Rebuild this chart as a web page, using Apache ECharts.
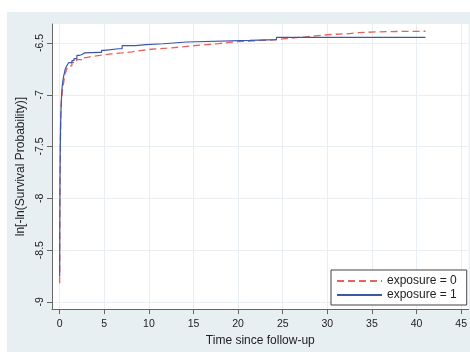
<!DOCTYPE html>
<html>
<head>
<meta charset="utf-8">
<script src="https://cdn.jsdelivr.net/npm/echarts@6/dist/echarts.min.js"></script>
<style>html,body{margin:0;padding:0;background:#fff}#c{width:470px;height:352px}</style>
</head>
<body>
<div id="c"></div>
<script>
// exposure = 0 (red dashed)
var t0 = [0, 0.01, 0.02, 0.04, 0.07, 0.1, 0.15, 0.2, 0.26, 0.35, 0.45, 0.6, 0.8, 1.0, 1.37, 1.9, 2.5, 3.0, 3.6, 4.5, 5.8, 7.0, 8.1, 9.0, 10.3, 12.0, 13.4, 15.0, 16.5, 17.9, 19.0, 20.0, 21.3, 22.4, 24.0, 25.0, 26.0, 27.5, 28.7, 30.0, 31.0, 32.5, 33.5, 35.4, 36.9, 38.0, 41.0];
var v0 = [-8.82, -8.5, -8.2, -7.85, -7.55, -7.35, -7.15, -7.05, -7.0, -6.93, -6.88, -6.8, -6.75, -6.72, -6.69, -6.66, -6.64, -6.63, -6.62, -6.605, -6.595, -6.585, -6.573, -6.56, -6.55, -6.54, -6.526, -6.515, -6.505, -6.494, -6.487, -6.482, -6.475, -6.47, -6.46, -6.452, -6.44, -6.43, -6.42, -6.415, -6.409, -6.4, -6.393, -6.39, -6.388, -6.386, -6.386];
// exposure = 1 (blue solid)
var t1 = [0, 0.01, 0.02, 0.04, 0.07, 0.1, 0.15, 0.25, 0.35, 0.45, 0.63, 0.8, 1.0, 1.37, 1.6, 1.93, 2.2, 2.5, 2.8, 4.4, 4.7, 5.0, 6.6, 7.0, 8.5, 9.7, 11.6, 14.2, 21.3, 24.3, 41.0];
var v1 = [-8.75, -8.45, -8.15, -7.8, -7.5, -7.3, -7.13, -6.95, -6.87, -6.82, -6.75, -6.72, -6.69, -6.67, -6.65, -6.62, -6.61, -6.595, -6.59, -6.59, -6.57, -6.555, -6.555, -6.525, -6.516, -6.507, -6.49, -6.475, -6.466, -6.446, -6.446];
var xTicks = [0, 5, 10, 15, 20, 25, 30, 35, 40, 45];
var yTicks = [-9, -8.5, -8, -7.5, -7, -6.5];
var seriesNames = ['exposure = 0', 'exposure = 1'];

function pairs(t, v) { return t.map(function (x, i) { return [x, v[i]]; }); }

var font = "'Liberation Sans', Arial, sans-serif";
var chart = echarts.init(document.getElementById('c'), null, { renderer: 'canvas' });
chart.setOption({
  animation: false,
  backgroundColor: '#ffffff',
  graphic: [{
    type: 'rect', z: -100, silent: true,
    shape: { x: 7, y: 12, width: 463, height: 340 },
    style: { fill: '#e8eff2' }
  }],
  grid: { left: 52, right: 0, top: 24, bottom: 39, show: true, backgroundColor: '#ffffff', borderWidth: 0 },
  legend: {
    data: seriesNames,
    orient: 'vertical', left: 331, top: 270,
    padding: [5, 10, 4, 5], itemWidth: 45, itemHeight: 14, itemGap: 2,
    itemStyle: { opacity: 0 },
    backgroundColor: '#ffffff', borderColor: '#444', borderWidth: 1, borderRadius: 0,
    textStyle: { fontFamily: font, fontSize: 12, color: '#222' }
  },
  xAxis: {
    type: 'value', min: -0.86, max: 45.84,
    name: 'Time since follow-up', nameLocation: 'middle', nameGap: 20,
    nameTextStyle: { fontFamily: font, fontSize: 12, color: '#222' },
    axisLine: { show: true, onZero: false, lineStyle: { color: '#666', width: 1 } },
    axisTick: { show: true, length: 5, customValues: xTicks, lineStyle: { color: '#666' } },
    axisLabel: { customValues: xTicks, fontFamily: font, fontSize: 10.5, color: '#222', margin: 10 },
    splitLine: { show: true, customValues: xTicks, lineStyle: { color: '#e8eef1', width: 1 } }
  },
  yAxis: {
    type: 'value', min: -9.07, max: -6.316,
    name: 'ln[-ln(Survival Probability)]', nameLocation: 'middle', nameGap: 12, nameRotate: 90,
    nameTextStyle: { fontFamily: font, fontSize: 12, color: '#222' },
    axisLine: { show: true, onZero: false, lineStyle: { color: '#666', width: 1 } },
    axisTick: { show: true, length: 5, customValues: yTicks, lineStyle: { color: '#666' } },
    axisLabel: { customValues: yTicks, rotate: 90, fontFamily: font, fontSize: 10.5, color: '#222', margin: 6 },
    splitLine: { show: true, customValues: yTicks, lineStyle: { color: '#e8eef1', width: 1 } }
  },
  series: [{
    name: seriesNames[0], type: 'line', step: 'end', symbol: 'none',
    data: pairs(t0, v0),
    lineStyle: { color: '#e8615d', width: 1.3, type: [7, 4] },
    itemStyle: { color: '#e8615d' }
  }, {
    name: seriesNames[1], type: 'line', step: 'end', symbol: 'none',
    data: pairs(t1, v1),
    lineStyle: { color: '#3c57a8', width: 1.2 },
    itemStyle: { color: '#3c57a8' }
  }]
});
</script>
</body>
</html>
